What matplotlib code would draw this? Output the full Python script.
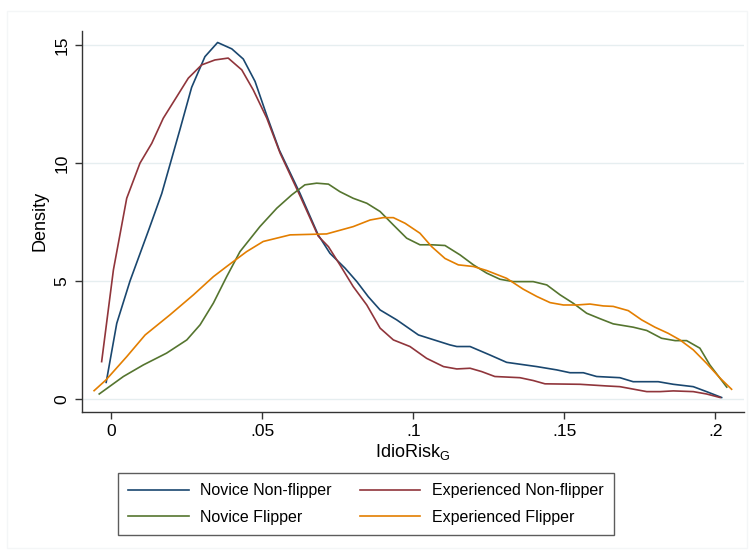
import matplotlib.pyplot as plt
from matplotlib.patches import Rectangle

plt.rcParams['font.family'] = ['Liberation Sans', 'DejaVu Sans']

# Novice Non-flipper
nn_x = [-0.0017, 0.0018, 0.0062, 0.0125, 0.0167, 0.0227, 0.0266, 0.031, 0.0352, 0.0399,
        0.0437, 0.0476, 0.0515, 0.0556, 0.0625, 0.0685, 0.0724, 0.0774, 0.0813, 0.0851,
        0.089, 0.0945, 0.1017, 0.1121, 0.1144, 0.1188, 0.1254, 0.1309, 0.1409, 0.1475,
        0.1519, 0.1563, 0.1607, 0.1684, 0.1728, 0.1811, 0.1861, 0.1927, 0.1971, 0.2021]
nn_y = [0.7, 3.2, 5.0, 7.2, 8.7, 11.4, 13.2, 14.5, 15.1, 14.83,
        14.4, 13.45, 12.0, 10.55, 8.7, 6.95, 6.17, 5.54, 4.97, 4.33,
        3.77, 3.35, 2.71, 2.29, 2.22, 2.22, 1.86, 1.55, 1.37, 1.23,
        1.11, 1.11, 0.95, 0.9, 0.73, 0.73, 0.62, 0.52, 0.31, 0.06]

# Experienced Non-flipper
en_x = [-0.0032, 0.0007, 0.0051, 0.0095, 0.0134, 0.0172, 0.0217, 0.0255, 0.0299, 0.0343,
        0.0387, 0.0432, 0.047, 0.0515, 0.0559, 0.0625, 0.0685, 0.0719, 0.0757, 0.0801,
        0.0846, 0.089, 0.0934, 0.0989, 0.1044, 0.11, 0.1144, 0.1188, 0.1226, 0.127,
        0.1353, 0.1397, 0.1436, 0.1552, 0.164, 0.1684, 0.1773, 0.1817, 0.1861, 0.1927,
        0.1971, 0.2016]
en_y = [1.58, 5.47, 8.5, 9.99, 10.83, 11.89, 12.81, 13.59, 14.15, 14.36,
        14.44, 13.94, 13.09, 11.89, 10.41, 8.6, 6.9, 6.45, 5.68, 4.76,
        3.98, 3.0, 2.5, 2.22, 1.72, 1.37, 1.27, 1.3, 1.16, 0.95,
        0.9, 0.78, 0.64, 0.62, 0.55, 0.52, 0.31, 0.31, 0.34, 0.31,
        0.21, 0.06]

# Novice Flipper
nf_x = [-0.004, 0.004, 0.0106, 0.0183, 0.025, 0.0294, 0.0338, 0.0382, 0.0426, 0.0492,
        0.0548, 0.0597, 0.0641, 0.068, 0.0719, 0.0757, 0.0801, 0.0846, 0.089, 0.0934,
        0.0978, 0.1022, 0.1061, 0.1105, 0.1155, 0.1199, 0.1243, 0.1287, 0.1331, 0.1397,
        0.1442, 0.1486, 0.153, 0.1574, 0.1618, 0.1662, 0.1728, 0.1773, 0.1822, 0.1867,
        0.1905, 0.1949, 0.1982, 0.2038]
nf_y = [0.21, 0.95, 1.44, 1.94, 2.5, 3.14, 4.06, 5.18, 6.24, 7.3,
        8.08, 8.64, 9.07, 9.14, 9.1, 8.78, 8.5, 8.29, 7.94, 7.37,
        6.81, 6.53, 6.53, 6.5, 6.1, 5.68, 5.33, 5.07, 4.97, 4.97,
        4.83, 4.41, 4.05, 3.63, 3.4, 3.18, 3.04, 2.9, 2.57, 2.47,
        2.47, 2.15, 1.44, 0.5]

# Experienced Flipper
ef_x = [-0.0057, -0.0018, 0.0051, 0.0112, 0.0194, 0.0272, 0.0338, 0.0382, 0.0448, 0.0503,
        0.0592, 0.0713, 0.0801, 0.0857, 0.09, 0.0934, 0.0973, 0.1022, 0.1061, 0.1105,
        0.1149, 0.1199, 0.1243, 0.1309, 0.1364, 0.1409, 0.1453, 0.1497, 0.1541, 0.1585,
        0.1629, 0.1662, 0.1712, 0.1756, 0.18, 0.1844, 0.1883, 0.1927, 0.1971, 0.2016,
        0.2054]
ef_y = [0.35, 0.8, 1.79, 2.71, 3.56, 4.41, 5.18, 5.61, 6.24, 6.67,
        6.95, 6.99, 7.3, 7.58, 7.68, 7.68, 7.44, 7.02, 6.45, 5.95,
        5.68, 5.61, 5.44, 5.11, 4.65, 4.34, 4.08, 3.98, 3.98, 4.02,
        3.94, 3.92, 3.74, 3.35, 3.04, 2.78, 2.5, 2.08, 1.51, 0.88,
        0.41]

x_ticks = [0, 0.05, 0.1, 0.15, 0.2]
x_tick_labels = ['0', '.05', '.1', '.15', '.2']
y_ticks = [0, 5, 10, 15]

fig = plt.figure(figsize=(7.49, 5.54), dpi=100)
ax = fig.add_axes([0.1095, 0.2569, 0.8838, 0.6877])

ax.plot(nn_x, nn_y, color='#1a476f', lw=1.2, label='Novice Non-flipper')
ax.plot(en_x, en_y, color='#90353b', lw=1.2, label='Experienced Non-flipper')
ax.plot(nf_x, nf_y, color='#55752f', lw=1.2, label='Novice Flipper')
ax.plot(ef_x, ef_y, color='#e37e00', lw=1.2, label='Experienced Flipper')

ax.set_xlim(-0.0097, 0.2095)
ax.set_ylim(-0.54, 15.6)
ax.set_xticks(x_ticks)
ax.set_xticklabels(x_tick_labels)
ax.set_yticks(y_ticks)
ax.set_yticklabels([str(v) for v in y_ticks], rotation=90, va='center')
ax.tick_params(axis='both', labelsize=12.5, length=5, width=1, color='#333333', pad=4)
ax.grid(axis='y', color='#e6eef0', lw=1)
ax.set_axisbelow(True)

for s in ['top', 'right']:
    ax.spines[s].set_visible(False)
for s in ['left', 'bottom']:
    ax.spines[s].set_color('#333333')
    ax.spines[s].set_linewidth(1)

ax.set_ylabel('Density', fontsize=13, labelpad=4)
ax.set_xlabel(r'IdioRisk$_\mathregular{G}$', fontsize=13, labelpad=2)

handles, labels = ax.get_legend_handles_labels()
order = [0, 2, 1, 3]
leg = fig.legend([handles[i] for i in order], [labels[i] for i in order],
                 ncol=2, loc='upper left', bbox_to_anchor=(118 / 749, 1 - 473 / 554),
                 fontsize=11.5, frameon=True, fancybox=False, edgecolor='#333333',
                 handlelength=3.8, handletextpad=0.7, columnspacing=1.75,
                 borderpad=0.65, labelspacing=0.72, borderaxespad=0)
leg.get_frame().set_linewidth(1)

# faint outer graph region border
fig.patches.append(Rectangle((7 / 749, 1 - 548 / 554), 740 / 749, 537 / 554,
                             transform=fig.transFigure, fill=False,
                             edgecolor='#f4f6f7', lw=1))

plt.savefig('out.png', dpi=100)
plt.close()
